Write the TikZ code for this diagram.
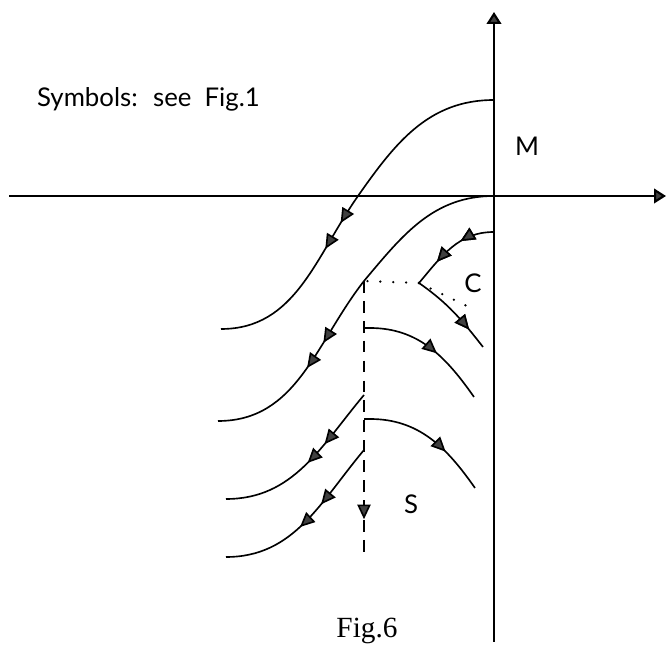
\documentclass[tikz,border=0pt]{standalone}
\usepackage{fontspec}
\setmainfont{Lato}
\newfontfamily\capfont{Liberation Serif}
\usetikzlibrary{arrows.meta, decorations.markings}

\tikzset{
  axisline/.style={line width=1.8pt, -{Triangle[length=3.6mm, width=4.4mm, fill=black!75]}},
  flowline/.style={line width=1.4pt},
  sepline/.style={line width=1.4pt, dash pattern=on 10pt off 7pt},
  dotline/.style={line width=2.2pt, line cap=round, dash pattern=on 0pt off 11pt},
  onearr/.style={postaction={decorate}, decoration={markings,
      mark=at position #1 with {\arrow{Triangle[length=4.4mm, width=4mm, fill=black!75]}}}},
  twoarr/.style 2 args={postaction={decorate}, decoration={markings,
      mark=at position #1 with {\arrow{Triangle[length=4.4mm, width=4mm, fill=black!75]}},
      mark=at position #2 with {\arrow{Triangle[length=4.4mm, width=4mm, fill=black!75]}}}},
  lbl/.style={font=\fontsize{22}{24}\selectfont}
}

\begin{document}
\begin{tikzpicture}[x=0.03cm, y=0.03cm]
  \useasboundingbox (0,0) rectangle (666,646);
  \clip (0,0) rectangle (666,646);

  % axes
  \coordinate (O) at (494,450);
  \coordinate (xl) at (9,450);
  \coordinate (xr) at (666,450);
  \coordinate (yb) at (494,4);
  \coordinate (yt) at (494,634);
  \draw[axisline] (xl) -- (xr);
  \draw[axisline] (yb) -- (yt);

  % outer trajectories (region M)
  \draw[flowline, twoarr={0.55}{0.63}]
       (494,546) to[out=180, in=55] (358,450) to[out=235, in=0] (221,317);
  \draw[flowline, twoarr={0.63}{0.71}]
       (O) to[out=180, in=50] (364,365) to[out=232, in=0] (218,225);

  % corner trajectory (region C)
  \coordinate (cc) at (419,363);
  \draw[flowline, twoarr={0.19}{0.36}, onearr=0.88]
       (494,414) to[out=180, in=50] (cc) to[out=-35, in=128] (483,299);
  \draw[dotline] (cc) -- (364,365);
  \draw[dotline] (cc) -- (469,339);

  % separatrix (region S)
  \coordinate (st) at (364,365);
  \coordinate (sb) at (364,88);
  \draw[sepline, onearr=0.86] (st) -- (sb);

  % trajectories leaving the separatrix
  \draw[flowline, twoarr={0.35}{0.49}] (364,251) to[out=230, in=0] (226,147);
  \draw[flowline, twoarr={0.38}{0.55}] (364,196) to[out=230, in=0] (226,89);
  \draw[flowline, onearr=0.58] (364,318) -- (370,318) to[out=0, in=125] (474,249);
  \draw[flowline, onearr=0.66] (364,227) -- (370,227) to[out=0, in=125] (475,158);

  % labels
  \node[font=\fontsize{22}{26}\selectfont, anchor=base west] (sym) at (33,539) {Symbols:~ see~ Fig.1};
  \node[lbl] (mlab) at (527,500) {M};
  \node[lbl] (clab) at (473,363) {C};
  \node[lbl] (slab) at (411,142) {S};
  \node[font=\capfont\fontsize{25}{28}\selectfont, anchor=base] (fig) at (367,8) {Fig.6};
\end{tikzpicture}
\end{document}
